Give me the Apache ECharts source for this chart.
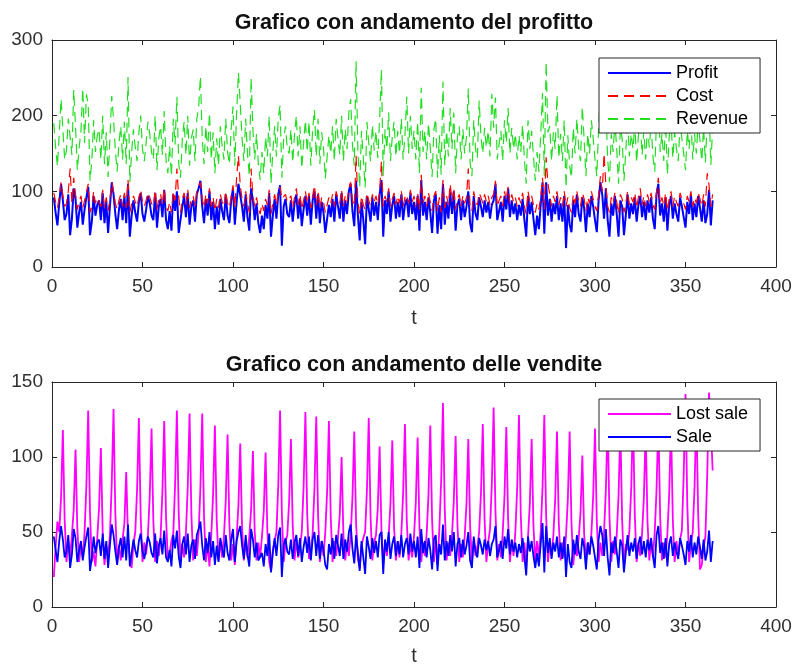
<!DOCTYPE html>
<html><head><meta charset="utf-8">
<script src="https://cdn.jsdelivr.net/npm/echarts@6/dist/echarts.min.js"></script>
<style>html,body{margin:0;padding:0;background:#fff}#c{width:795px;height:665px}</style>
</head><body><div id="c"></div><script>
const xTickValues = [0,50,100,150,200,250,300,350,400];
const yTopTicks = [0,100,200,300];
const yBottomTicks = [0,50,100,150];
const titleTop = 'Grafico con andamento del profitto';
const titleBottom = 'Grafico con andamento delle vendite';
const xLabel = 't';
const legendTop = ['Profit','Cost','Revenue'];
const legendBottom = ['Lost sale','Sale'];

const profit = [
92,72,55,84,110,88,62,70,96,42,
64,104,90,52,72,86,56,76,92,106,
42,60,94,68,82,88,62,98,58,86,
45,80,112,96,70,50,76,90,62,94,
58,110,40,68,88,72,60,86,98,70,
60,76,94,84,68,62,98,52,80,90,
66,102,62,50,74,48,96,74,100,45,
46,80,94,66,98,56,80,88,60,96,
104,114,80,58,90,68,100,62,86,50,
80,56,90,74,62,96,68,58,88,104,
56,86,110,108,80,60,96,66,48,104,
88,62,84,58,45,68,50,82,64,98,
40,68,90,64,96,108,28,80,90,70,
66,88,60,84,96,64,90,54,76,94,
68,94,56,88,100,64,96,58,86,72,
45,44,82,66,90,60,96,80,64,98,
60,88,70,100,110,74,54,114,68,35,
86,62,30,94,76,60,92,68,86,62,
96,115,40,88,70,100,60,82,94,64,
86,66,96,62,82,90,66,98,70,86,
62,94,48,115,68,86,62,92,72,45,
88,96,44,82,50,110,56,86,64,100,
70,100,48,82,90,62,88,66,80,100,
58,46,94,70,62,92,80,66,88,72,
86,64,82,88,110,62,74,86,60,94,
76,104,66,88,70,84,62,82,68,90,
62,40,94,70,86,64,42,68,50,82,
112,44,112,68,90,60,84,70,94,62,
84,60,94,25,82,56,46,88,66,96,
70,60,92,78,46,84,66,94,80,62,
46,88,112,96,64,104,62,40,84,68,
94,70,40,88,80,42,68,96,64,84,
70,92,60,82,94,66,86,62,88,72,
92,64,50,96,110,68,84,60,92,48,
82,94,64,84,70,60,92,80,66,52,
86,70,96,62,84,66,94,78,60,88,
58,70,102,55,88];

const cost = [
98,86,78,92,112,94,80,84,100,130,
84,118,96,76,86,94,78,88,98,110,
72,80,100,84,92,94,80,102,78,92,
74,90,112,100,84,76,88,96,80,98,
78,115,72,84,94,86,80,92,102,86,
80,88,98,92,84,80,102,76,90,96,
82,104,80,74,86,72,100,88,130,92,
72,90,98,82,102,78,90,94,80,100,
106,112,90,78,96,84,104,80,92,74,
90,78,96,86,80,100,84,78,94,108,
78,118,147,108,90,80,100,84,72,130,
94,80,92,78,70,84,74,90,82,102,
70,84,96,82,100,106,90,90,96,86,
84,94,78,92,104,82,96,76,88,100,
84,98,78,94,108,82,100,78,92,86,
72,74,92,84,96,80,100,90,84,102,
80,94,86,104,112,88,80,147,86,70,
94,82,75,98,88,80,96,86,94,82,
100,140,80,94,86,104,80,90,98,82,
94,84,100,80,92,96,84,102,86,94,
80,98,76,122,84,94,80,98,86,74,
94,100,74,92,72,115,78,94,82,110,
86,104,76,90,96,80,94,84,92,130,
80,74,100,86,82,98,92,84,96,86,
94,82,92,96,114,80,88,94,80,100,
88,106,84,96,86,92,80,92,84,98,
80,70,100,86,94,82,72,84,76,92,
118,76,145,110,96,80,94,86,100,82,
92,80,100,80,92,78,72,96,84,100,
86,80,98,90,74,92,84,100,90,80,
74,96,120,100,150,108,80,72,92,84,
98,86,70,96,90,72,84,100,82,92,
86,98,78,92,104,82,94,80,96,86,
98,82,76,100,118,84,92,80,98,74,
90,100,80,94,86,80,98,90,84,76,
94,86,100,80,92,84,98,90,80,96,
80,124,108,80,96];

const revenue = [
190,158,133,176,222,182,142,154,196,172,
148,234,186,128,158,180,236,164,228,216,
114,140,194,152,174,182,142,200,136,178,
119,170,226,196,154,126,164,186,142,192,
136,251,112,152,182,158,140,178,200,156,
140,164,192,176,152,142,200,128,170,186,
148,206,142,124,160,120,196,162,225,137,
118,170,192,148,200,134,170,182,140,196,
210,252,170,136,186,152,204,142,178,124,
170,134,186,160,142,196,152,136,182,212,
134,204,257,216,170,140,196,150,120,250,
182,142,176,136,115,152,124,172,146,200,
110,152,186,146,196,214,118,170,186,156,
150,182,138,176,200,146,186,130,164,194,
152,192,134,182,208,146,196,136,178,158,
117,118,174,150,186,140,196,170,148,200,
140,182,156,204,222,162,134,272,154,105,
180,144,105,192,164,140,188,154,180,144,
196,261,120,182,156,204,140,172,192,146,
180,150,196,142,174,225,150,200,156,180,
142,192,124,237,152,180,142,190,158,119,
182,196,118,174,122,245,134,180,146,210,
156,204,124,172,186,142,182,150,172,236,
138,120,194,156,144,220,172,150,184,158,
180,146,229,184,224,142,162,180,140,194,
164,210,150,184,156,176,142,174,152,188,
142,110,194,156,180,146,114,152,126,174,
230,120,271,178,186,140,178,156,227,144,
176,140,194,105,174,134,118,184,150,196,
156,140,212,168,120,176,150,194,170,142,
120,184,232,196,235,212,142,112,176,152,
192,156,110,184,170,114,152,196,146,176,
156,190,138,174,198,148,180,142,184,158,
190,146,126,196,228,152,176,140,190,122,
172,194,144,178,156,140,190,170,150,128,
180,156,196,142,176,150,192,168,140,184,
138,194,210,135,184];

const lostSale = [
20,40,57,50,73,118,58,30,44,33,
48,65,105,52,30,42,33,50,81,131,
63,30,37,27,46,66,106,50,28,41,
33,48,82,132,62,29,41,31,45,56,
90,46,33,26,42,50,78,126,60,30,
43,35,48,74,119,57,30,44,34,47,
77,124,60,31,36,44,49,81,131,63,
30,42,33,50,80,129,62,31,45,34,
49,80,129,60,30,42,27,48,75,121,
58,31,44,33,47,71,115,55,31,42,
28,46,68,109,53,31,44,33,47,65,
104,50,31,43,33,47,64,103,50,30,
24,38,44,50,81,131,62,30,43,48,
70,112,54,31,45,33,40,50,80,130,
62,32,36,49,79,127,61,30,44,34,
50,77,124,60,30,44,34,46,62,100,
48,31,43,34,48,73,117,56,32,26,
41,46,50,78,126,60,31,43,48,66,
107,52,29,42,34,47,69,111,53,31,
44,33,49,76,122,58,31,42,33,47,
70,113,54,30,43,34,49,75,121,58,
30,44,28,52,84,136,65,31,43,34,
48,71,114,55,30,42,33,47,69,112,
54,30,44,34,40,50,76,122,58,30,
43,52,82,133,64,31,42,33,49,74,
120,58,30,44,34,50,79,128,61,30,
43,27,47,69,112,54,31,44,33,50,
79,128,61,30,43,34,48,72,117,56,
31,43,33,48,72,117,56,28,42,34,
46,63,101,49,30,43,35,49,74,119,
57,30,43,34,50,78,125,60,30,44,
35,48,74,120,58,27,42,38,51,79,
128,61,30,43,34,49,73,118,57,31,
44,33,50,78,125,60,31,43,33,49,
76,122,58,30,44,34,45,51,88,142,
68,30,42,50,80,130,62,25,28,40,
47,88,143,120,91];

const sale = [
47,38,30,44,54,45,33,37,48,26,
35,52,46,30,38,44,31,40,47,53,
24,33,47,36,43,45,34,49,32,44,
26,41,55,48,37,28,40,46,33,47,
31,55,27,36,45,38,33,44,49,37,
32,40,47,43,36,33,49,29,41,46,
35,51,33,30,38,27,48,39,51,34,
26,42,47,35,49,30,41,45,32,48,
52,57,41,31,46,36,50,33,44,28,
41,30,46,39,33,48,36,31,45,52,
30,44,50,54,41,32,48,35,27,52,
45,33,43,31,30,36,27,42,34,49,
23,36,46,34,48,53,20,41,46,37,
35,45,32,43,48,34,46,30,40,47,
36,47,31,45,50,34,48,32,44,38,
28,25,42,35,46,32,48,41,34,49,
32,45,37,50,55,39,29,48,36,24,
44,33,22,47,40,32,46,36,44,33,
48,50,22,45,37,50,32,42,47,34,
44,35,48,33,42,46,35,49,37,44,
33,47,26,52,36,44,33,46,38,25,
45,48,24,42,35,55,31,44,34,48,
37,50,27,42,46,33,45,35,41,50,
31,26,47,37,33,46,41,35,45,38,
44,34,42,45,54,33,38,44,32,47,
39,52,35,45,37,43,33,42,36,46,
33,21,47,37,44,34,26,36,27,42,
56,23,54,36,46,32,43,37,47,33,
43,32,47,20,42,30,26,45,35,48,
37,32,46,40,25,43,35,47,41,33,
25,45,54,48,34,52,33,21,43,36,
47,37,26,45,41,23,36,48,34,43,
37,46,32,42,47,35,44,33,45,38,
46,34,26,48,54,36,43,32,46,27,
42,47,34,43,37,32,46,41,35,28,
44,37,48,33,43,35,47,40,32,45,
31,37,51,30,44];

const FONT = '"Liberation Sans", Arial, Helvetica, sans-serif';
const AX = '#262626';
function pts(arr){ return arr.map((v,i)=>[i+1,v]); }

const grids = [
  {left:52, top:40, width:724, height:227},
  {left:52, top:382, width:724, height:225}
];
function xAx(gi, pos, show){
  return {type:'value', gridIndex:gi, position:pos, min:xTickValues[0], max:xTickValues[xTickValues.length-1],
    interval:xTickValues[1]-xTickValues[0],
    axisLine:{show:true, onZero:false, lineStyle:{color:AX, width:1}},
    axisTick:{show:true, inside:true, length:5, lineStyle:{color:AX}},
    axisLabel:{show:show, fontSize:19, color:'#303030', fontFamily:FONT, margin:10},
    splitLine:{show:false}};
}
function yAx(gi, pos, ticks, show){
  return {type:'value', gridIndex:gi, position:pos, min:ticks[0], max:ticks[ticks.length-1],
    interval:ticks[1]-ticks[0],
    axisLine:{show:true, onZero:false, lineStyle:{color:AX, width:1}},
    axisTick:{show:true, inside:true, length:5, lineStyle:{color:AX}},
    axisLabel:{show:show, fontSize:19, color:'#303030', fontFamily:FONT, margin:9},
    splitLine:{show:false}};
}
function line(name, data, xi, yi, color, width, type){
  return {name:name, type:'line', xAxisIndex:xi, yAxisIndex:yi, data:pts(data), symbol:'none', showSymbol:false,
    lineStyle:{color:color, width:width, type:type}, itemStyle:{color:color}, animation:false};
}
const legendBase = {orient:'vertical', itemWidth:63, itemHeight:18, itemGap:5,
  padding:[6,12,5,8], borderColor:AX, borderWidth:1, backgroundColor:'#fff',
  itemStyle:{opacity:0},
  textStyle:{fontSize:18, color:'#000', fontFamily:FONT}};

const option = {
  animation:false,
  backgroundColor:'#fff',
  grid:grids,
  xAxis:[xAx(0,'bottom',true), xAx(0,'top',false), xAx(1,'bottom',true), xAx(1,'top',false)],
  yAxis:[yAx(0,'left',yTopTicks,true), yAx(0,'right',yTopTicks,false), yAx(1,'left',yBottomTicks,true), yAx(1,'right',yBottomTicks,false)],
  legend:[
    Object.assign({}, legendBase, {data:legendTop, left:599, top:58}),
    Object.assign({}, legendBase, {data:legendBottom, left:599, top:399})
  ],
  graphic:[
    {type:'text', x:414, y:23, style:{text:titleTop, textAlign:'center', textVerticalAlign:'middle', fontSize:21.5, fontWeight:'bold', fontFamily:FONT, fill:'#111'}},
    {type:'text', x:414, y:365, style:{text:titleBottom, textAlign:'center', textVerticalAlign:'middle', fontSize:21.5, fontWeight:'bold', fontFamily:FONT, fill:'#111'}},
    {type:'text', x:414, y:318, style:{text:xLabel, textAlign:'center', textVerticalAlign:'middle', fontSize:20, fontFamily:FONT, fill:'#303030'}},
    {type:'text', x:414, y:656, style:{text:xLabel, textAlign:'center', textVerticalAlign:'middle', fontSize:20, fontFamily:FONT, fill:'#303030'}}
  ],
  series:[
    line('Profit', profit, 0, 0, '#0000ff', 2, 'solid'),
    line('Cost', cost, 0, 0, '#ff0000', 1.2, [10,6]),
    line('Revenue', revenue, 0, 0, '#22dd22', 1.2, [10,6]),
    line('Lost sale', lostSale, 2, 2, '#ff00ff', 1.8, 'solid'),
    line('Sale', sale, 2, 2, '#0000ff', 1.8, 'solid')
  ]
};
const chart = echarts.init(document.getElementById('c'), null, {renderer:'canvas'});
chart.setOption(option);
</script></body></html>
